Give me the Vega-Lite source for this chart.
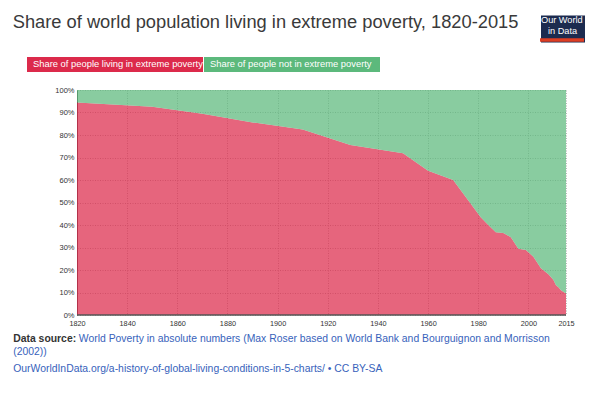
{
  "$schema": "https://vega.github.io/schema/vega-lite/v6.json",
  "width": 489,
  "height": 225,
  "autosize": {"type": "none"},
  "padding": {"left": 77, "top": 90, "right": 30, "bottom": 82},
  "background": "white",
  "config": {"view": {"stroke": null}, "font": "Liberation Sans"},
  "title": {
    "text": "Share of world population living in extreme poverty, 1820-2015",
    "anchor": "start",
    "frame": "group",
    "dx": -64.3,
    "dy": 70.3,
    "fontSize": 18.3,
    "fontWeight": "normal",
    "color": "#3a3a3a",
    "font": "Liberation Sans",
    "baseline": "alphabetic",
    "offset": 0
  },
  "datasets": {
    "poverty": [
      {"year": 1820, "group": "Share of people living in extreme poverty", "share": 94.4},
      {"year": 1850, "group": "Share of people living in extreme poverty", "share": 92.6},
      {"year": 1870, "group": "Share of people living in extreme poverty", "share": 89.5},
      {"year": 1890, "group": "Share of people living in extreme poverty", "share": 85.6},
      {"year": 1910, "group": "Share of people living in extreme poverty", "share": 82.5},
      {"year": 1929, "group": "Share of people living in extreme poverty", "share": 75.6},
      {"year": 1950, "group": "Share of people living in extreme poverty", "share": 71.9},
      {"year": 1960, "group": "Share of people living in extreme poverty", "share": 64.1},
      {"year": 1970, "group": "Share of people living in extreme poverty", "share": 60.0},
      {"year": 1981, "group": "Share of people living in extreme poverty", "share": 43.5},
      {"year": 1984, "group": "Share of people living in extreme poverty", "share": 40.0},
      {"year": 1987, "group": "Share of people living in extreme poverty", "share": 36.8},
      {"year": 1990, "group": "Share of people living in extreme poverty", "share": 36.5},
      {"year": 1993, "group": "Share of people living in extreme poverty", "share": 34.6},
      {"year": 1996, "group": "Share of people living in extreme poverty", "share": 29.5},
      {"year": 1999, "group": "Share of people living in extreme poverty", "share": 28.9},
      {"year": 2002, "group": "Share of people living in extreme poverty", "share": 25.9},
      {"year": 2005, "group": "Share of people living in extreme poverty", "share": 20.8},
      {"year": 2008, "group": "Share of people living in extreme poverty", "share": 18.1},
      {"year": 2010, "group": "Share of people living in extreme poverty", "share": 15.6},
      {"year": 2011, "group": "Share of people living in extreme poverty", "share": 13.2},
      {"year": 2012, "group": "Share of people living in extreme poverty", "share": 12.3},
      {"year": 2013, "group": "Share of people living in extreme poverty", "share": 11.0},
      {"year": 2015, "group": "Share of people living in extreme poverty", "share": 9.6},
      {"year": 1820, "group": "Share of people not in extreme poverty", "share": 5.6},
      {"year": 1850, "group": "Share of people not in extreme poverty", "share": 7.4},
      {"year": 1870, "group": "Share of people not in extreme poverty", "share": 10.5},
      {"year": 1890, "group": "Share of people not in extreme poverty", "share": 14.4},
      {"year": 1910, "group": "Share of people not in extreme poverty", "share": 17.5},
      {"year": 1929, "group": "Share of people not in extreme poverty", "share": 24.4},
      {"year": 1950, "group": "Share of people not in extreme poverty", "share": 28.1},
      {"year": 1960, "group": "Share of people not in extreme poverty", "share": 35.9},
      {"year": 1970, "group": "Share of people not in extreme poverty", "share": 40.0},
      {"year": 1981, "group": "Share of people not in extreme poverty", "share": 56.5},
      {"year": 1984, "group": "Share of people not in extreme poverty", "share": 60.0},
      {"year": 1987, "group": "Share of people not in extreme poverty", "share": 63.2},
      {"year": 1990, "group": "Share of people not in extreme poverty", "share": 63.5},
      {"year": 1993, "group": "Share of people not in extreme poverty", "share": 65.4},
      {"year": 1996, "group": "Share of people not in extreme poverty", "share": 70.5},
      {"year": 1999, "group": "Share of people not in extreme poverty", "share": 71.1},
      {"year": 2002, "group": "Share of people not in extreme poverty", "share": 74.1},
      {"year": 2005, "group": "Share of people not in extreme poverty", "share": 79.2},
      {"year": 2008, "group": "Share of people not in extreme poverty", "share": 81.9},
      {"year": 2010, "group": "Share of people not in extreme poverty", "share": 84.4},
      {"year": 2011, "group": "Share of people not in extreme poverty", "share": 86.8},
      {"year": 2012, "group": "Share of people not in extreme poverty", "share": 87.7},
      {"year": 2013, "group": "Share of people not in extreme poverty", "share": 89.0},
      {"year": 2015, "group": "Share of people not in extreme poverty", "share": 90.4}
    ]
  },
  "layer": [
    {
      "data": {"name": "poverty"},
      "mark": {"type": "area", "opacity": 0.72, "interpolate": "linear"},
      "encoding": {
        "x": {
          "field": "year",
          "type": "quantitative",
          "scale": {"domain": [1820, 2015], "nice": false, "zero": false},
          "axis": {
            "values": [1820, 1840, 1860, 1880, 1900, 1920, 1940, 1960, 1980, 2000, 2015],
            "format": "d",
            "labelFont": "Liberation Sans",
            "labelFontSize": 7.3,
            "labelColor": "#333",
            "labelPadding": 4,
            "labelFlush": false,
            "labelOverlap": false,
            "ticks": false,
            "domain": false,
            "grid": true,
            "gridColor": "#b5b5b5",
            "gridDash": [1, 1.5],
            "gridWidth": 1,
            "title": "World Poverty in absolute numbers (Max Roser based on World Bank and Bourguignon and Morrisson",
            "titleFont": "Liberation Sans",
            "titleFontSize": 10.4,
            "titleFontWeight": "normal",
            "titleColor": "#3762bb",
            "titleAnchor": "start",
            "titleAlign": "left",
            "titleBaseline": "alphabetic",
            "titleX": 1.3,
            "titleY": 26.7
          }
        },
        "y": {
          "field": "share",
          "type": "quantitative",
          "stack": "zero",
          "scale": {"domain": [0, 100], "nice": false},
          "axis": {
            "values": [0, 10, 20, 30, 40, 50, 60, 70, 80, 90, 100],
            "labelExpr": "datum.value + '%'",
            "labelFont": "Liberation Sans",
            "labelFontSize": 7.5,
            "labelColor": "#333",
            "labelPadding": 3,
            "ticks": false,
            "domain": true,
            "domainColor": "#444",
            "domainWidth": 1,
            "grid": true,
            "gridColor": "#b5b5b5",
            "gridDash": [1, 1.5],
            "gridWidth": 1,
            "title": "Data source:",
            "titleAngle": 0,
            "titleFont": "Liberation Sans",
            "titleFontSize": 10.4,
            "titleFontWeight": "bold",
            "titleColor": "#333",
            "titleAlign": "left",
            "titleBaseline": "alphabetic",
            "titleX": -64.3,
            "titleY": 251.7
          }
        },
        "order": {"field": "group", "type": "nominal", "sort": "ascending"},
        "color": {
          "field": "group",
          "type": "nominal",
          "sort": ["Share of people living in extreme poverty", "Share of people not in extreme poverty"],
          "scale": {
            "domain": ["Share of people living in extreme poverty", "Share of people not in extreme poverty"],
            "range": ["#dc2a4b", "#5cb97c"]
          },
          "legend": {
            "orient": "none",
            "legendX": -50,
            "legendY": -113.8,
            "direction": "horizontal",
            "title": null,
            "padding": 0,
            "symbolType": "M-1,-0.0852H1V0.0852H-1Z",
            "symbolSize": 30976,
            "symbolStrokeWidth": 0,
            "symbolOpacity": 1,
            "labelOffset": -170,
            "labelColor": "white",
            "labelFont": "Liberation Sans",
            "labelFontSize": 9.4,
            "labelLimit": 400,
            "columnPadding": 1,
            "encode": {"symbols": {"update": {"opacity": {"value": 1}, "fillOpacity": {"value": 1}}}}
          }
        }
      }
    },
    {
      "data": {"values": [{"line": "x-axis baseline"}]},
      "mark": {"type": "rule", "strokeWidth": 1.6},
      "encoding": {
        "y": {
          "datum": 0,
          "type": "quantitative",
          "axis": {
            "orient": "right",
            "labels": false,
            "ticks": false,
            "domain": false,
            "grid": false,
            "title": ["(2002))", "OurWorldInData.org/a-history-of-global-living-conditions-in-5-charts/ \u2022 CC BY-SA"],
            "titleAngle": 0,
            "titleFont": "Liberation Sans",
            "titleFontSize": 10.4,
            "titleFontWeight": "normal",
            "titleColor": "#3762bb",
            "titleAlign": "left",
            "titleBaseline": "alphabetic",
            "titleLineHeight": 17.4,
            "titleX": -553.3,
            "titleY": 264.3
          }
        },
        "stroke": {
          "datum": "in Data",
          "scale": {"range": ["#555555"]},
          "legend": {
            "orient": "none",
            "legendX": 464,
            "legendY": -74.5,
            "title": "Our World",
            "titleFont": "Liberation Sans",
            "titleFontSize": 9.2,
            "titleFontWeight": "normal",
            "titleColor": "white",
            "titlePadding": 2,
            "titleAlign": "left",
            "labelFont": "Liberation Sans",
            "labelFontSize": 9.2,
            "labelColor": "white",
            "labelOffset": -2.2,
            "symbolType": "M-1.25,1.57H8.59V2.33H-1.25Z",
            "symbolSize": 80,
            "symbolOpacity": 1,
            "symbolStrokeWidth": 0,
            "symbolFillColor": "#dd3e23",
            "symbolStrokeColor": "transparent",
            "fillColor": "#1c2b4f",
            "padding": 0,
            "encode": {
              "symbols": {
                "update": {
                  "fill": {"value": "#dd3e23"},
                  "stroke": {"value": "transparent"},
                  "strokeWidth": {"value": 0},
                  "opacity": {"value": 1},
                  "fillOpacity": {"value": 1},
                  "shape": {"value": "M-1.25,1.57H8.59V2.33H-1.25Z"},
                  "size": {"value": 80}
                }
              }
            }
          }
        }
      }
    }
  ],
  "resolve": {"axis": {"y": "independent"}}
}
